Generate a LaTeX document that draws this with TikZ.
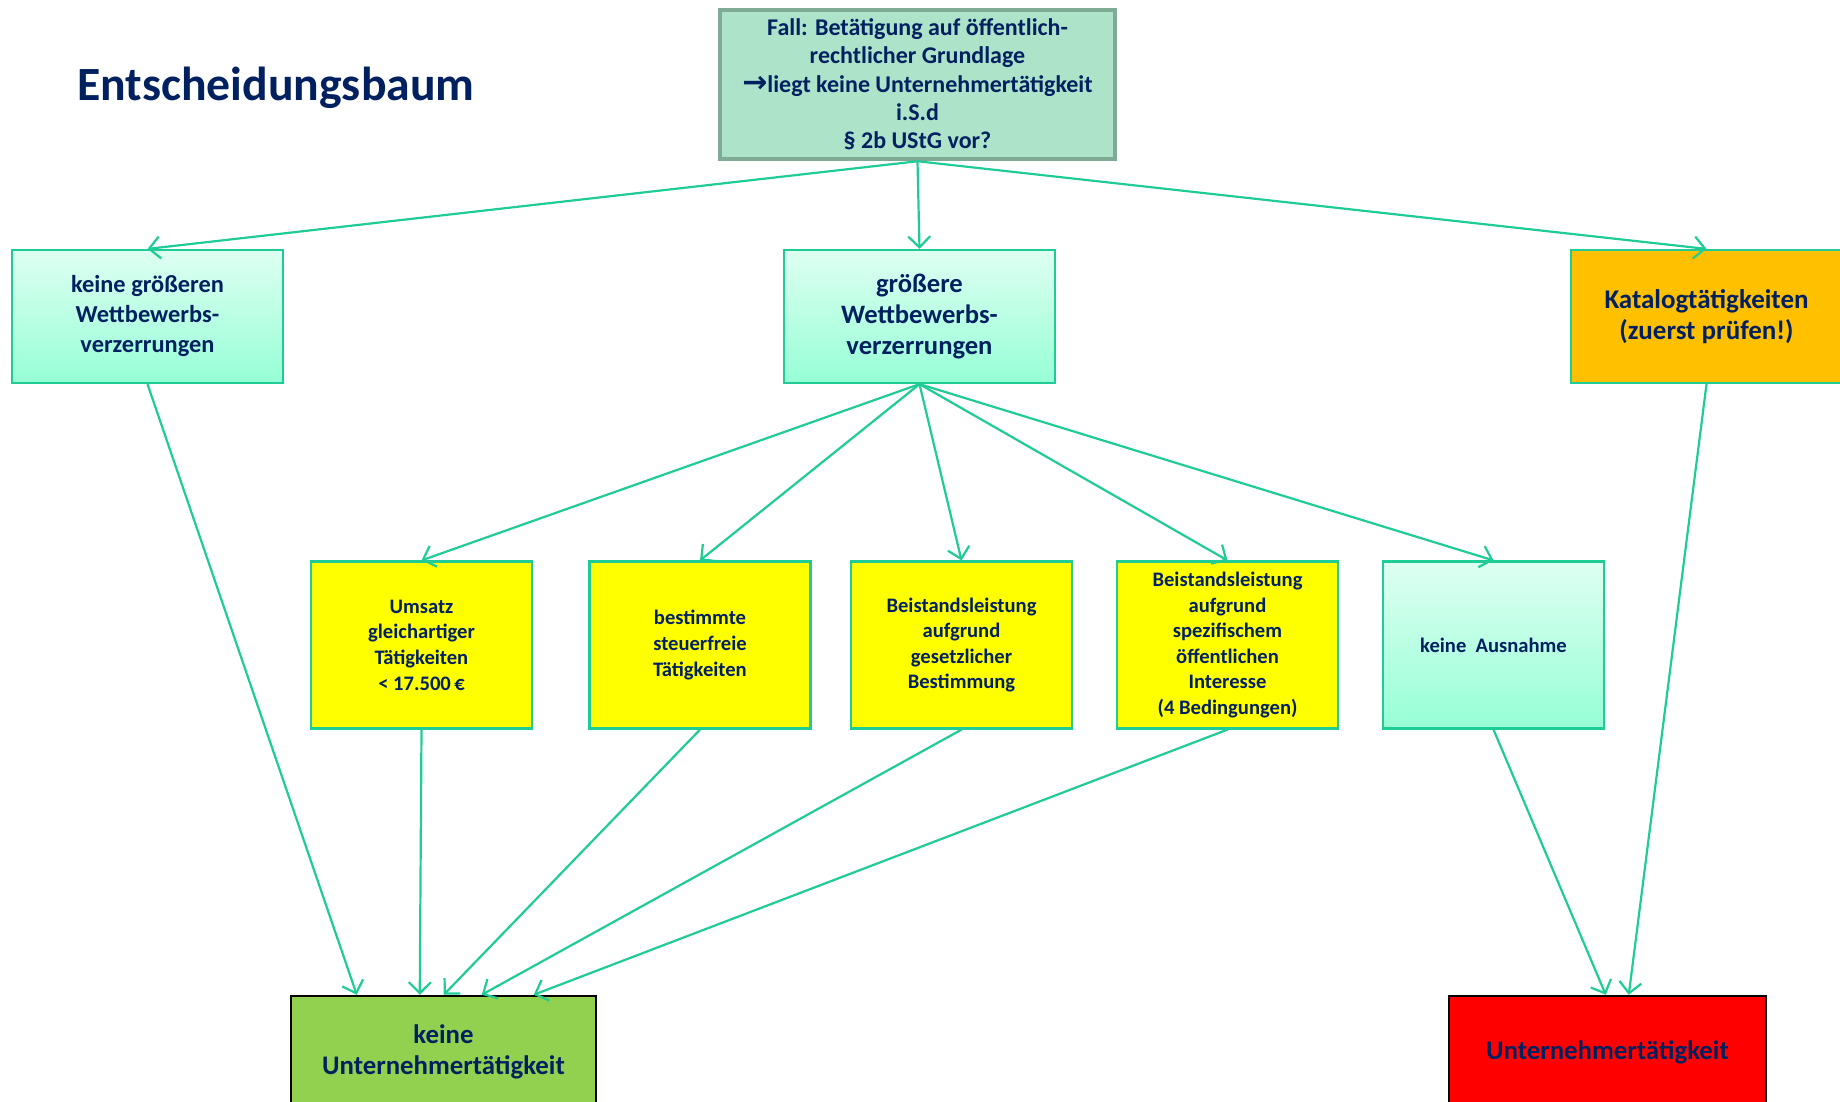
\documentclass[tikz,border=0pt]{standalone}
\usepackage{fontspec}
\setmainfont{Carlito}
\newfontfamily\symfont{DejaVu Sans}
\usetikzlibrary{arrows.meta,calc}

\definecolor{navy}{HTML}{002060}
\definecolor{teal}{HTML}{20CC96}
\definecolor{headfill}{HTML}{ACE3C9}
\definecolor{headline}{HTML}{7FAA93}
\definecolor{mintTop}{HTML}{DEFFF2}
\definecolor{mintBot}{HTML}{96FFD6}
\definecolor{yel}{HTML}{FFFF00}
\definecolor{amber}{HTML}{FFC000}
\definecolor{okgreen}{HTML}{92D050}
\definecolor{alarm}{HTML}{FF0000}

\tikzset{
  box/.style={rectangle, inner sep=0pt, align=center, text=navy, font=\bfseries},
  headbox/.style={box, draw=headline, line width=4.5pt, fill=headfill,
    minimum width=395pt, minimum height=149pt,
    font=\bfseries\fontsize{24}{28.3}\selectfont},
  mintbox/.style={box, draw=teal, line width=2.2pt, top color=mintTop, bottom color=mintBot,
    minimum width=271pt, minimum height=133pt,
    font=\bfseries\fontsize{24.4}{30}\selectfont},
  smallbox/.style={box, draw=teal, line width=2.2pt,
    minimum width=221pt, minimum height=167pt,
    font=\bfseries\fontsize{20.6}{25.6}\selectfont},
  endbox/.style={box, draw=black, line width=2.5pt,
    minimum height=112pt,
    font=\bfseries\fontsize{26.8}{30.5}\selectfont},
  link/.style={draw=teal, line width=2.2pt,
    -{Straight Barb[length=11pt, width=22pt, line width=2.2pt]}},
}

\begin{document}
\begin{tikzpicture}[x=1pt, y=-1pt]
\useasboundingbox (0,0) rectangle (1840,1101);
\clip (0,0) rectangle (1840,1101);

% title
\node[anchor=base west, inner sep=0pt, text=navy, font=\bfseries\fontsize{47.7}{56}\selectfont]
  (title) at (77,100) {Entscheidungsbaum};

% starting question
\node[headbox] (head) at (917.5,84.5)
  {Fall: Betätigung auf öffentlich-\\rechtlicher Grundlage\\
   {\symfont\bfseries\fontsize{30}{28.3}\selectfont →}liegt keine Unternehmertätigkeit\\i.S.d\\§ 2b UStG vor?};

% first level
\node[mintbox] (small) at (147.5,316.5) {keine größeren\\Wettbewerbs-\\verzerrungen};
\node[mintbox, font=\bfseries\fontsize{26.6}{31}\selectfont] (large) at (919.5,316.5)
  {größere\\Wettbewerbs-\\verzerrungen};
\node[box, draw=teal, line width=2.2pt, fill=amber, minimum width=271pt, minimum height=133pt,
  font=\bfseries\fontsize{27}{31.5}\selectfont] (catalog) at (1706.5,316.5)
  {Katalogtätigkeiten\\(zuerst prüfen!)};

% exceptions
\node[smallbox, fill=yel] (turnover) at (421.5,645) {Umsatz\\gleichartiger\\Tätigkeiten\\< 17.500\,€};
\node[smallbox, fill=yel] (taxfree) at (700,645) {bestimmte\\steuerfreie\\Tätigkeiten};
\node[smallbox, fill=yel] (legal) at (961.5,645) {Beistandsleistung\\aufgrund\\gesetzlicher\\Bestimmung};
\node[smallbox, fill=yel] (public) at (1227.5,645)
  {Beistandsleistung\\aufgrund\\spezifischem\\öffentlichen\\Interesse\\(4 Bedingungen)};
\node[smallbox, top color=mintTop, bottom color=mintBot] (none) at (1493.5,645) {keine\ \ Ausnahme};

% outcomes
\node[endbox, fill=okgreen, minimum width=305pt] (noent) at (443.5,1052) {keine\\Unternehmertätigkeit};
\node[endbox, fill=alarm, minimum width=317pt] (ent) at (1607.5,1052) {Unternehmertätigkeit};

% connectors
\draw[link] (head.south) -- (small.north);
\draw[link] (head.south) -- (large.north);
\draw[link] (head.south) -- (catalog.north);

\draw[link] (large.south) -- (turnover.north);
\draw[link] (large.south) -- (taxfree.north);
\draw[link] (large.south) -- (legal.north);
\draw[link] (large.south) -- (public.north);
\draw[link] (large.south) -- (none.north);

\draw[link] (small.south) -- ([xshift=67pt]noent.north west);
\draw[link] (turnover.south) -- ([xshift=130pt]noent.north west);
\draw[link] (taxfree.south) -- ([xshift=154pt]noent.north west);
\draw[link] (legal.south) -- ([xshift=192pt]noent.north west);
\draw[link] (public.south) -- ([xshift=244pt]noent.north west);

\draw[link] (none.south) -- ([xshift=158pt]ent.north west);
\draw[link] (catalog.south) -- ([xshift=181pt]ent.north west);
\end{tikzpicture}
\end{document}
